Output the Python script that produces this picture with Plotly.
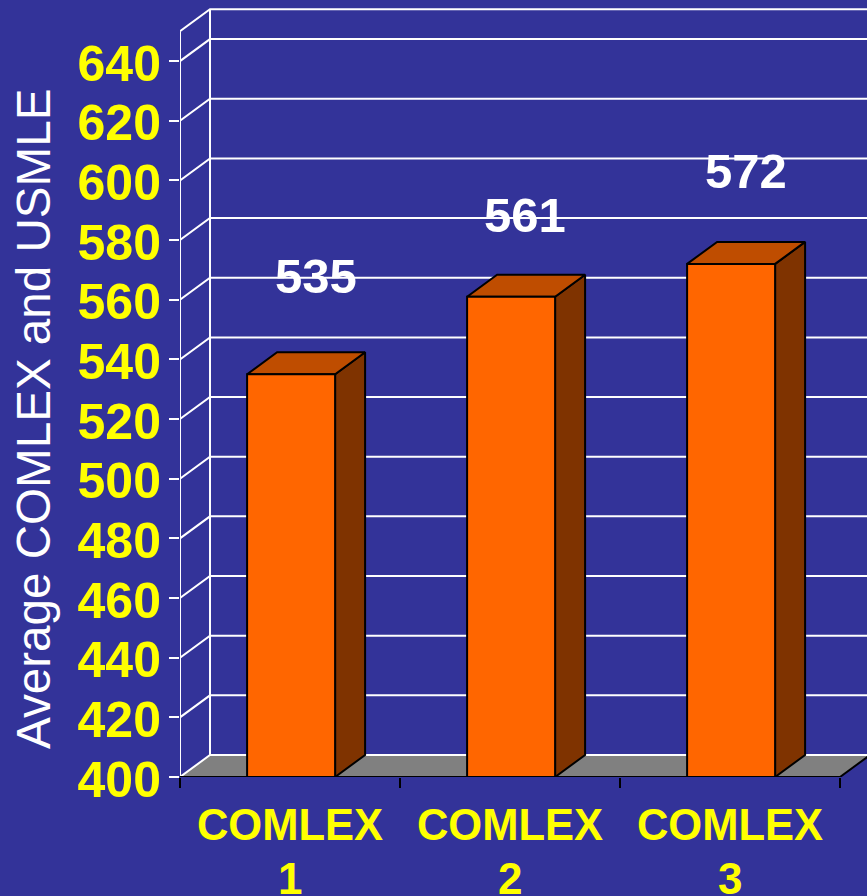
import plotly.graph_objects as go

CATEGORIES = ["COMLEX", "COMLEX", "COMLEX"]
CATEGORY_NUMBERS = ["1", "2", "3"]
SCORES = [535, 561, 572]
SCORE_LABELS = ["535", "561", "572"]
Y_TICKS = [400, 420, 440, 460, 480, 500, 520, 540, 560, 580, 600, 620, 640]
AXIS_TOP = 650
AXIS_FLOOR = 400

COLORS = {
    "bg": "#333399",
    "yellow": "#FFFF00",
    "white": "#FFFFFF",
    "black": "#000000",
    "floor": "#808080",
    "front": "#FF6600",
    "side": "#7F3300",
    "top": "#BF4D00",
}

# page geometry of the fake 3D box, in pixels
WIDTH, HEIGHT = 867, 896
LEFT, RIGHT, TOP, BOTTOM = 180, 0, 4, 119
PX_PER_CAT = 220
PX_PER_UNIT = 2.983

DX = 30 / PX_PER_CAT
DY = 22 / PX_PER_UNIT
BAR_START = 0.305
BAR_WIDTH = 0.4

# label nudges from the bar top: the slide placed these by hand
LABEL_SHIFT_X = [0.118, 0.068, 0.074]
LABEL_SHIFT_Y = [32.8, 27.4, 31]


def poly(xs, ys, fill=None, line=None, width=2):
    return go.Scatter(
        x=xs, y=ys, mode="lines", fill="toself" if fill else None,
        fillcolor=fill, line=dict(color=line or fill, width=width if line else 0),
        cliponaxis=False, hoverinfo="skip", showlegend=False,
    )


fig = go.Figure()

# floor
fig.add_trace(poly([0, DX, 3 + DX, 3, 0],
                   [AXIS_FLOOR, AXIS_FLOOR + DY, AXIS_FLOOR + DY, AXIS_FLOOR, AXIS_FLOOR],
                   fill=COLORS["floor"]))

# walls and gridlines
for tick in Y_TICKS + [AXIS_TOP]:
    fig.add_trace(poly([0, DX, 4], [tick, tick + DY, tick + DY], line=COLORS["white"]))
fig.add_trace(poly([0, 0], [AXIS_FLOOR, AXIS_TOP], line=COLORS["white"]))
fig.add_trace(poly([DX, DX], [AXIS_FLOOR + DY, AXIS_TOP + DY], line=COLORS["white"]))

# axis front edge
fig.add_trace(poly([0, 3], [AXIS_FLOOR, AXIS_FLOOR], line=COLORS["black"]))
fig.add_trace(poly([3, 3 + DX], [AXIS_FLOOR, AXIS_FLOOR + DY], line=COLORS["black"]))

# bars
for i, score in enumerate(SCORES):
    x0 = i + BAR_START
    x1 = x0 + BAR_WIDTH
    fig.add_trace(poly([x1, x1 + DX, x1 + DX, x1, x1],
                       [AXIS_FLOOR, AXIS_FLOOR + DY, score + DY, score, AXIS_FLOOR],
                       fill=COLORS["side"], line=COLORS["black"]))
    fig.add_trace(poly([x0, x0 + DX, x1 + DX, x1, x0],
                       [score, score + DY, score + DY, score, score],
                       fill=COLORS["top"], line=COLORS["black"]))
    fig.add_trace(poly([x0, x1, x1, x0, x0],
                       [AXIS_FLOOR, AXIS_FLOOR, score, score, AXIS_FLOOR],
                       fill=COLORS["front"], line=COLORS["black"]))
    fig.add_annotation(
        x=i + 0.5 + LABEL_SHIFT_X[i], y=score + LABEL_SHIFT_Y[i],
        text="<b>" + SCORE_LABELS[i] + "</b>", showarrow=False,
        font=dict(family="Liberation Sans", size=49, color=COLORS["white"]),
    )
    # second line of the category label: tick text line spacing is too wide
    fig.add_annotation(
        x=i + 0.5, yref="paper", y=0, yshift=-101, yanchor="middle",
        text="<b>" + CATEGORY_NUMBERS[i] + "</b>", showarrow=False,
        font=dict(family="Liberation Sans", size=44, color=COLORS["yellow"]),
    )

# y title sits lower than the plot centre, so it is placed by hand
fig.add_annotation(
    xref="paper", yref="paper", xanchor="center", yanchor="middle",
    x=(33 - LEFT) / (WIDTH - LEFT - RIGHT),
    y=(HEIGHT - BOTTOM - 419) / (HEIGHT - TOP - BOTTOM),
    text="Average COMLEX and USMLE", textangle=-90, showarrow=False,
    font=dict(family="Liberation Sans", size=47.6, color=COLORS["white"]),
)

fig.update_layout(
    width=WIDTH, height=HEIGHT,
    margin=dict(l=LEFT, r=RIGHT, t=TOP, b=BOTTOM, pad=0),
    paper_bgcolor=COLORS["bg"], plot_bgcolor=COLORS["bg"],
    showlegend=False,
    xaxis=dict(
        range=[0, (WIDTH - LEFT - RIGHT) / PX_PER_CAT],
        automargin=False,
        showgrid=False, zeroline=False, showline=False,
        tickmode="array", tickvals=[0.5, 1.5, 2.5],
        ticktext=["<b>" + c + "</b>" for c in CATEGORIES],
        ticks="", ticklabelstandoff=18,
        tickfont=dict(family="Liberation Sans", size=43.5, color=COLORS["yellow"]),
        minor=dict(tickmode="array", tickvals=[0, 1, 2, 3], ticks="outside",
                   ticklen=10, tickwidth=2, tickcolor=COLORS["black"], showgrid=False),
    ),
    yaxis=dict(
        range=[AXIS_FLOOR, AXIS_FLOOR + (HEIGHT - TOP - BOTTOM) / PX_PER_UNIT],
        automargin=False,
        showgrid=False, zeroline=False, showline=False,
        tickmode="array", tickvals=Y_TICKS, ticktext=["<b>%d</b>" % t for t in Y_TICKS],
        ticks="outside", ticklen=10, tickwidth=2, tickcolor=COLORS["white"],
        ticklabelstandoff=-2, ticklabelshift=2,
        tickfont=dict(family="Liberation Sans", size=50, color=COLORS["yellow"]),
    ),
)

# the page margin would leave a white strip round the chart
fig.write_html("out.html", config={"displayModeBar": False},
               post_script="document.body.style.margin='0';document.body.style.background='#333399';")
